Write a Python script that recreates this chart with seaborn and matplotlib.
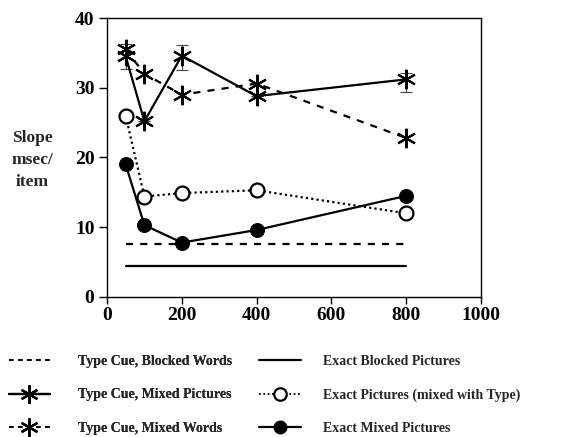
import matplotlib
matplotlib.use("Agg")
import matplotlib.pyplot as plt
from matplotlib.lines import Line2D
import seaborn as sns

# Display duration (msec) on the x axis
durations = [50, 100, 200, 400, 800]

type_blocked_words = [7.6, 7.6]          # flat reference line
exact_blocked_pictures = [4.5, 4.5]      # flat reference line
flat_x = [50, 800]

type_mixed_pictures = [34.5, 25.2, 34.6, 28.8, 31.2]
type_mixed_pictures_lo = [32.7, 25.2, 32.6, 28.8, 29.4]
type_mixed_pictures_hi = [36.3, 25.2, 36.1, 28.8, 32.1]

type_mixed_words = [35.5, 32.0, 29.0, 30.6, 22.8]
exact_pictures_mixed = [26.0, 14.4, 14.9, 15.3, 12.0]
exact_mixed_pictures = [19.0, 10.3, 7.8, 9.6, 14.5]

legend_labels = [
    "Type Cue, Blocked Words",
    "Type Cue, Mixed Pictures",
    "Type Cue, Mixed Words",
    "Exact Blocked Pictures",
    "Exact Pictures (mixed with Type)",
    "Exact Mixed Pictures",
]

x_ticks = [0, 200, 400, 600, 800, 1000]
y_ticks = [0, 10, 20, 30, 40]

sns.set_style("ticks")
plt.rcParams["font.family"] = ["Liberation Serif", "DejaVu Serif"]
plt.rcParams["font.weight"] = "bold"

fig = plt.figure(figsize=(5.73, 4.37), dpi=100)
ax = fig.add_axes([0.1867, 0.3204, 0.6527, 0.6384])

ASTER = (6, 2, 0)
lw = 1.6
DASH = (0, (3.2, 3.2))
DOT = (0, (1, 1.4))

sns.lineplot(x=flat_x, y=type_blocked_words, ax=ax, color="black",
             lw=lw, linestyle=DASH)
sns.lineplot(x=flat_x, y=exact_blocked_pictures, ax=ax, color="black", lw=lw)

# error bars for the mixed-pictures type-cue condition
yerr = [[m - lo for m, lo in zip(type_mixed_pictures, type_mixed_pictures_lo)],
        [hi - m for m, hi in zip(type_mixed_pictures, type_mixed_pictures_hi)]]
ax.errorbar(durations, type_mixed_pictures, yerr=yerr, fmt="none",
            ecolor="#444444", elinewidth=0.8, capsize=4, capthick=0.8)

sns.lineplot(x=durations, y=type_mixed_words, ax=ax, color="black", lw=lw,
             linestyle=DASH, marker=ASTER, markersize=14,
             markeredgewidth=1.5, markeredgecolor="black")
sns.lineplot(x=durations, y=type_mixed_pictures, ax=ax, color="black", lw=lw,
             marker=ASTER, markersize=14, markeredgewidth=1.5,
             markeredgecolor="black")
sns.lineplot(x=durations, y=exact_pictures_mixed, ax=ax, color="black", lw=lw,
             linestyle=DOT, marker="o", markersize=10,
             markerfacecolor="white", markeredgecolor="black",
             markeredgewidth=1.6)
sns.lineplot(x=durations, y=exact_mixed_pictures, ax=ax, color="black", lw=lw,
             marker="o", markersize=10, markerfacecolor="black",
             markeredgecolor="black")

ax.set_xlim(0, 1000)
ax.set_ylim(0, 40)
ax.set_xticks(x_ticks)
ax.set_yticks(y_ticks)
ax.set_xticklabels([str(t) for t in x_ticks], fontsize=14, fontweight="bold")
ax.set_yticklabels([str(t) for t in y_ticks], fontsize=14, fontweight="bold")
ax.tick_params(axis="y", direction="out", length=6, width=1, pad=3,
               colors="black")
ax.tick_params(axis="x", direction="out", length=5, width=1, pad=2,
               colors="black")
for s in ax.spines.values():
    s.set_linewidth(1.0)
    s.set_color("black")
ax.set_xlabel("")
ax.set_ylabel("")
if ax.get_legend() is not None:
    ax.get_legend().remove()

fig.text(0.056, 0.634, "Slope\nmsec/\nitem", ha="center", va="center",
         fontsize=12.5, fontweight="bold", linespacing=1.5)

handles = [
    Line2D([], [], color="black", lw=1.3, linestyle=(0, (2.5, 2.5))),
    Line2D([], [], color="black", lw=lw, marker=ASTER, markersize=13,
           markeredgewidth=1.5),
    Line2D([], [], color="black", lw=1.3, linestyle=(0, (2.5, 2.5)),
           marker=ASTER, markersize=13, markeredgewidth=1.5),
    Line2D([], [], color="black", lw=lw),
    Line2D([], [], color="black", lw=1.3, linestyle=DOT, marker="o",
           markersize=9, markerfacecolor="white", markeredgewidth=1.6),
    Line2D([], [], color="black", lw=lw, marker="o", markersize=9),
]
leg_kw = dict(loc="upper left", frameon=False,
              prop={"family": "Liberation Serif", "weight": "bold", "size": 10},
              handlelength=3.0, labelspacing=1.45, borderpad=0,
              borderaxespad=0)
leg1 = fig.legend(handles[:3], legend_labels[:3],
                  bbox_to_anchor=(0.015, 0.187), handletextpad=2.0, **leg_kw)
fig.add_artist(leg1)
fig.legend(handles[3:], legend_labels[3:],
           bbox_to_anchor=(0.452, 0.187), handletextpad=1.6, **leg_kw)

fig.savefig("out.png", dpi=100)
